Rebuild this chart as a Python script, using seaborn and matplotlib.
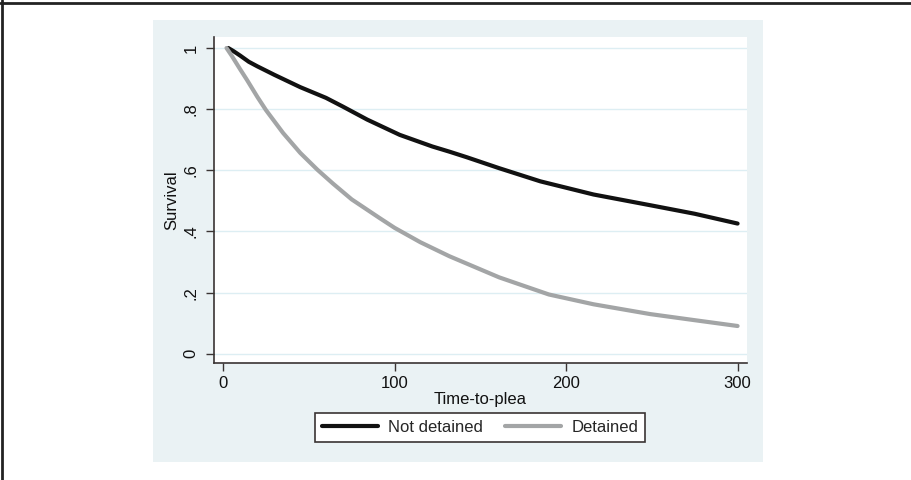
import matplotlib
matplotlib.use("Agg")
import matplotlib.pyplot as plt
from matplotlib.lines import Line2D
from matplotlib.patches import Rectangle
import pandas as pd
import seaborn as sns

# values
not_detained_t = [3, 6, 10, 15, 20, 25, 30, 45, 60, 70, 84, 103, 122, 132, 142, 161, 185, 216, 249, 275, 300]
not_detained_s = [1.0, 0.99, 0.975, 0.955, 0.94, 0.926, 0.912, 0.872, 0.837, 0.808, 0.766, 0.716, 0.678, 0.661,
                  0.643, 0.607, 0.564, 0.521, 0.486, 0.458, 0.426]

detained_t = [2, 5, 10, 14, 20, 25, 35, 45, 55, 64, 75, 91, 100, 115, 132, 161, 190, 216, 249, 275, 300]
detained_s = [1.0, 0.975, 0.93, 0.895, 0.84, 0.797, 0.722, 0.657, 0.602, 0.557, 0.505, 0.445, 0.412, 0.365,
              0.319, 0.25, 0.194, 0.162, 0.13, 0.11, 0.091]

x_ticks = [0, 100, 200, 300]
y_ticks = [0, 0.2, 0.4, 0.6, 0.8, 1.0]
y_tick_labels = ["0", ".2", ".4", ".6", ".8", "1"]

df = pd.concat([
    pd.DataFrame({"time": not_detained_t, "surv": not_detained_s, "group": "Not detained"}),
    pd.DataFrame({"time": detained_t, "surv": detained_s, "group": "Detained"}),
])

sns.set_theme(style="white")
plt.rcParams["font.family"] = ["Liberation Sans", "DejaVu Sans"]

W, H = 912, 480
fig = plt.figure(figsize=(W / 100, H / 100), dpi=100)
fig.patch.set_facecolor("white")

# stata-ish light panel behind the plot
fig.add_artist(Rectangle((153 / W, 1 - 462 / H), (763 - 153) / W, (462 - 20) / H,
                         transform=fig.transFigure, facecolor="#eaf2f4", edgecolor="none", zorder=0))
# frame lines on top and left of image
fig.add_artist(Line2D([0, 1], [1 - 2.5 / H, 1 - 2.5 / H], transform=fig.transFigure, color="#222222", lw=2))
fig.add_artist(Line2D([2.5 / W, 2.5 / W], [0, 1], transform=fig.transFigure, color="#222222", lw=2))

ax = fig.add_axes([214 / W, 1 - 363 / H, (747 - 214) / W, (363 - 37) / H])
ax.set_facecolor("white")

sns.lineplot(data=df, x="time", y="surv", hue="group", palette={"Not detained": "#111111", "Detained": "#a3a5a6"},
             linewidth=3, ax=ax, legend=False, sort=False, estimator=None)

ax.set_xlim(-5.3, 305.5)
ax.set_ylim(-0.03, 1.036)
ax.set_xticks(x_ticks)
ax.set_yticks(y_ticks)
ax.set_yticklabels(y_tick_labels, rotation=90, va="center")
ax.grid(axis="y", color="#ddeef3", linewidth=1)
ax.grid(axis="x", visible=False)
ax.set_axisbelow(True)

for side in ["top", "right"]:
    ax.spines[side].set_visible(False)
for side in ["left", "bottom"]:
    ax.spines[side].set_color("#3a3433")
    ax.spines[side].set_linewidth(1.2)

ax.tick_params(axis="both", which="major", length=6, width=1, color="#3a3433", labelsize=12, pad=3,
               left=True, bottom=True, labelcolor="#111111")
ax.tick_params(axis="y", pad=5)

ax.set_xlabel("Time-to-plea", fontsize=12, color="#111111", labelpad=1)
ax.set_ylabel("Survival", fontsize=12, color="#111111", labelpad=3)

handles = [Line2D([], [], color="#111111", lw=3), Line2D([], [], color="#a3a5a6", lw=3)]
leg = fig.legend(handles, ["Not detained", "Detained"], loc="center", bbox_to_anchor=(480 / W, 1 - 427.5 / H),
                 ncol=2, fontsize=12, frameon=True, fancybox=False, handlelength=3.4, handletextpad=0.6,
                 columnspacing=1.3, borderpad=0.4, borderaxespad=0)
leg.get_frame().set_edgecolor("#3a3433")
leg.get_frame().set_linewidth(1.2)
leg.get_frame().set_facecolor("white")
leg.get_frame().set_alpha(1)

fig.savefig("out.png", dpi=100)
